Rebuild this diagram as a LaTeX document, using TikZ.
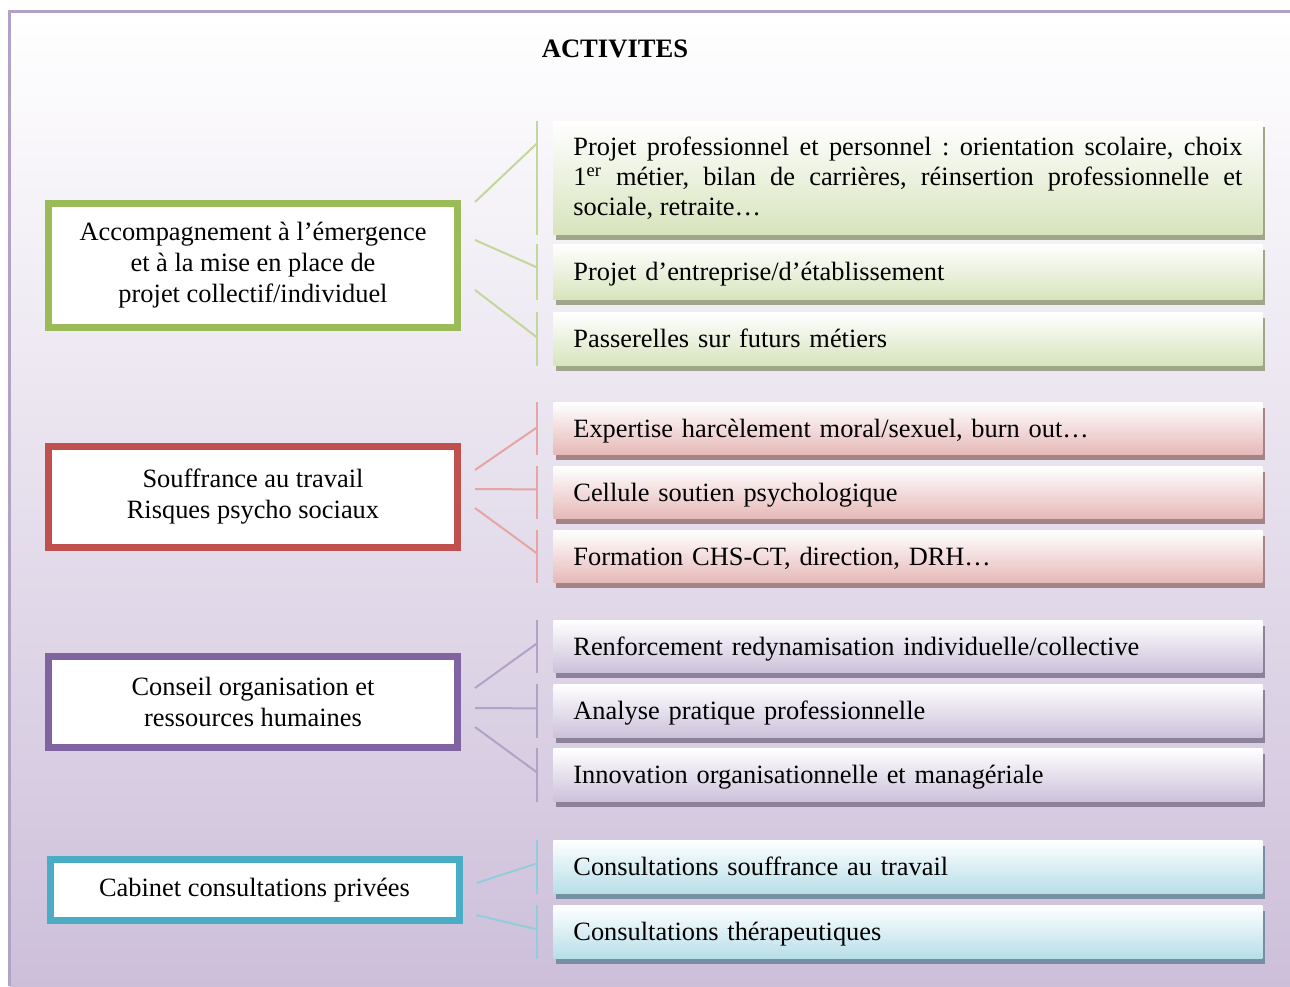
\documentclass[tikz,border=0pt]{standalone}
\usepackage{fontspec}
\setmainfont{Liberation Serif}
\usetikzlibrary{calc, shadows}
\definecolor{bgpurple}{HTML}{CDBFDA}
\definecolor{framepurple}{HTML}{B3A2C7}
% green group
\definecolor{gframe}{HTML}{9BBB59}
\definecolor{gline}{HTML}{C3D69B}
\definecolor{gfill}{HTML}{D7E4BD}
\definecolor{gshadow}{HTML}{A0A68A}
% red group
\definecolor{rframe}{HTML}{C0504D}
\definecolor{rline}{HTML}{E6A5A4}
\definecolor{rfill}{HTML}{E6B9B8}
\definecolor{rshadow}{HTML}{A48486}
% purple group
\definecolor{pframe}{HTML}{8064A2}
\definecolor{pline}{HTML}{B3A2C7}
\definecolor{pfill}{HTML}{CCC1DA}
\definecolor{pshadow}{HTML}{8C8299}
% blue group
\definecolor{bframe}{HTML}{4BACC6}
\definecolor{bline}{HTML}{93CDDD}
\definecolor{bfill}{HTML}{B7DEE8}
\definecolor{bshadow}{HTML}{768FA3}
\frenchspacing

\begin{document}
\begin{tikzpicture}[x=0.5pt, y=-0.5pt,
  topic/.style={draw=#1frame, line width=3.5pt, fill=white, align=center, minimum width=204.5pt, inner sep=0pt, font=\fontsize{13.2}{15.5}\selectfont},
  item/.style={anchor=north west, top color=white, bottom color=#1fill, minimum width=354.5pt, text width=334.5pt, inner xsep=10pt, inner ysep=0pt, align=left, font=\fontsize{13.2}{15}\selectfont, drop shadow={fill=#1shadow, opacity=1, shadow xshift=1.25pt, shadow yshift=-2.75pt}},
  link/.style={draw=#1line, line width=1pt}]
\useasboundingbox (0,0) rectangle (1290,986);
\shade[top color=white, bottom color=bgpurple] (9.5,11.5) rectangle (1290,986);
\draw[framepurple, line width=1.5pt] (9.5,986) -- (9.5,11.5) -- (1290,11.5);

\node[font=\fontsize{13.3}{15}\selectfont\bfseries] (title) at (615,49) {ACTIVITES};

% themes
\node[topic=g, minimum height=62pt] (accomp) at (253,265.5) {Accompagnement à l’émergence\\ et à la mise en place de\\ projet collectif/individuel};
\node[topic=r, minimum height=50.5pt] (souff) at (253,496.5) {Souffrance au travail\\ Risques psycho sociaux};
\node[topic=p, minimum height=45.5pt] (conseil) at (253,702) {Conseil organisation et\\ ressources humaines};
\node[topic=b, minimum height=30.5pt] (cabinet) at (254.5,890) {Cabinet consultations privées};

% activities
\node[item=g, minimum height=56.5pt, align=justify] (g1) at (553,121) {\hyphenpenalty=10000 Projet professionnel et personnel~: orientation scolaire, choix\linebreak 1\textsuperscript{er} métier, bilan de carrières, réinsertion professionnelle et\linebreak sociale, retraite…};
\foreach \n/\c/\y/\h/\txt in {g2/g/244/27.5/{Projet d’entreprise/d’établissement},
  g3/g/312/26.5/{Passerelles sur futurs métiers},
  r1/r/402/26/{Expertise harcèlement moral/sexuel, burn out…},
  r2/r/466/26/{Cellule soutien psychologique},
  r3/r/530/26/{Formation CHS-CT, direction, DRH…},
  p1/p/620/26/{Renforcement redynamisation individuelle/collective},
  p2/p/684/26.5/{Analyse pratique professionnelle},
  p3/p/748/26.5/{Innovation organisationnelle et managériale},
  b1/b/840/26.5/{Consultations souffrance au travail},
  b2/b/905/26.5/{Consultations thérapeutiques}}
  \node[item=\c, minimum height=\h pt, text height=9pt, text depth=0pt] (\n) at (553,\y) {\txt};

% brackets
\foreach \n/\c in {g1/g,g2/g,g3/g,r1/r,r2/r,r3/r,p1/p,p2/p,p3/p,b1/b,b2/b}
  \draw[link=\c] ($(\n.north west)+(-16,0)$) -- ($(\n.south west)+(-16,0)$);

% connectors
\foreach \a/\da/\b/\db/\c in {accomp/-63.5/g1/-34.5/g, accomp/-25.5/g2/-4.5/g, accomp/24.5/g3/-1.5/g,
  souff/-26.5/r1/-1/r, souff/-7.5/r2/-3/r, souff/11.5/r3/-3/r,
  conseil/-14/p1/-3/p, conseil/6/p2/-2.5/p, conseil/25/p3/-2.5/p,
  cabinet/-7/b1/-3.5/b, cabinet/25/b2/-2.5/b}
  \draw[link=\c] ($(\a.east)+(14,\da)$) -- ($(\b.west)+(-16,\db)$);
\end{tikzpicture}
\end{document}
